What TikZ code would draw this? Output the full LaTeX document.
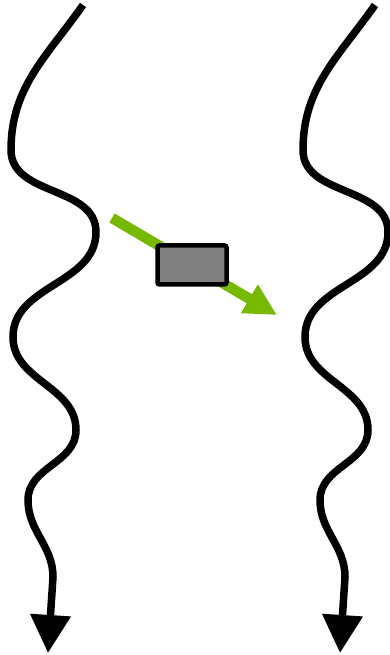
\documentclass[tikz,border=0pt]{standalone}
\usetikzlibrary{arrows.meta,positioning}
\definecolor{leafgreen}{RGB}{118,185,0}

\begin{document}
\begin{tikzpicture}[x=1pt, y=1pt,
    wave/.style={line width=7.5pt, -{Triangle[length=38pt, width=39pt]}},
    beam/.style={line width=10.5pt, leafgreen, -{Triangle[length=32pt, width=31pt]}},
    block/.style={rectangle, draw, fill=gray, line width=4.5pt, rounded corners=2pt, inner sep=0pt, minimum width=69pt, minimum height=39pt}
]
\useasboundingbox (0,0) rectangle (390,655);

% two wavy paths, same shape
\foreach \dx in {0, 292} {
  \begin{scope}[xshift=\dx]
    \draw[wave] (83,650) to[out=-125, in=90] (11,505) to[out=-90, in=90] (96,423)
      to[out=-90, in=90] (13,318) to[out=-90, in=90] (76,225)
      to[out=-90, in=90] (28,155) to[out=-90, in=90] (53,78) -- (48,2);
  \end{scope}
}

% green arrow through the block
\coordinate (src) at (112,437);
\coordinate (dst) at (277,340);
\draw[beam] (src) -- (dst);
\node[block] (blk) at (192,390) {};

\end{tikzpicture}
\end{document}
